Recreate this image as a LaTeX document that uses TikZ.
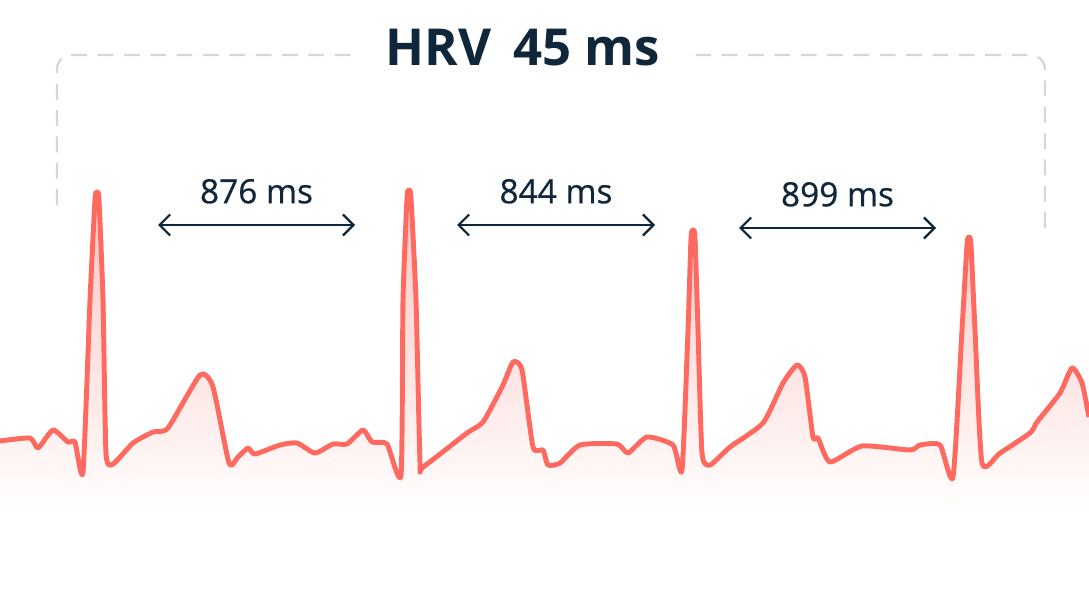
\documentclass[tikz,border=0pt]{standalone}
\usepackage{fontspec}
\setmainfont{Open Sans}
\newfontfamily\rrfont[FakeBold=0.6]{Open Sans}
\usetikzlibrary{positioning,arrows.meta,calc}
\definecolor{hrvNavy}{HTML}{10263A}
\definecolor{hrvRed}{HTML}{FF6A60}
\definecolor{hrvPink}{HTML}{FCC4C0}
\definecolor{hrvGrey}{HTML}{DCD4D4}

\begin{document}
\begin{tikzpicture}[x=0.02cm, y=-0.02cm, every node/.style={text=hrvNavy, inner sep=0pt}]
  \useasboundingbox (0,0) rectangle (1089,615);

  % ecg trace
  \def\ecg{(0,441) (30,438) (38,448) (53,430) (68,442) (75,442) (83,472) (90,300) (95,200) (97,192) (99,200) (103,300) (106,453) (113,464) (133,443) (153,432) (168,428) (200,375) (213,387) (229,463) (238,457) (248,448) (255,454) (280,445) (297,443) (315,453) (333,444) (347,444) (363,430) (372,442) (387,444) (401,475) (403,300) (407,198) (409,190) (411,198) (416,300) (420,463) (423,467) (467,433) (483,422) (503,385) (513,362) (522,370) (533,447) (543,450) (548,465) (560,463) (580,445) (617,444) (628,453) (647,437) (673,445) (682,470) (688,330) (691,238) (693,230) (695,238) (698,330) (702,453) (710,465) (730,447) (763,423) (783,383) (797,365) (805,377) (813,437) (818,438) (830,462) (862,446) (910,450) (920,445) (940,445) (953,477) (962,330) (967,245) (969,237) (971,245) (975,330) (982,463) (1000,453) (1030,433) (1037,422) (1060,393) (1072,368) (1082,383) (1089,417)}
  \shade[top color=hrvPink, bottom color=white] plot[smooth, tension=0.35] coordinates {\ecg} -- (1089,515) -- (0,515) -- cycle;
  \draw[hrvRed, line width=2.8pt, line join=round] plot[smooth, tension=0.35] coordinates {\ecg};

  % hrv bracket
  \node[font=\fontsize{29}{34}\selectfont\bfseries] (hrv) at (523,48) {HRV\, 45 ms};
  \coordinate (bl) at (57,205);
  \coordinate (br) at (1045,228);
  \draw[hrvGrey, line width=1.3pt, dash pattern=on 9pt off 6pt, rounded corners=8pt] (bl) |- ([xshift=-20pt]hrv.west |- 0,55);
  \draw[hrvGrey, line width=1.3pt, dash pattern=on 9pt off 6pt, rounded corners=8pt] (br) |- ([xshift=20pt]hrv.east |- 0,55);

  % rr intervals
  \coordinate (a1l) at (158,225);
  \coordinate (a1r) at (355,225);
  \coordinate (a2l) at (457,225);
  \coordinate (a2r) at (655,225);
  \coordinate (a3l) at (739,228);
  \coordinate (a3r) at (936,228);
  \node[font=\fontsize{19}{23}\selectfont\rrfont, above=12pt of $(a1l)!0.5!(a1r)$] (rr1) {876 ms};
  \node[font=\fontsize{19}{23}\selectfont\rrfont, above=12pt of $(a2l)!0.5!(a2r)$] (rr2) {844 ms};
  \node[font=\fontsize{19}{23}\selectfont\rrfont, above=12pt of $(a3l)!0.5!(a3r)$] (rr3) {899 ms};
  \draw[{Straight Barb[length=6pt,width=12pt]}-{Straight Barb[length=6pt,width=12pt]}, line width=1.3pt, hrvNavy] (a1l) -- (a1r);
  \draw[{Straight Barb[length=6pt,width=12pt]}-{Straight Barb[length=6pt,width=12pt]}, line width=1.3pt, hrvNavy] (a2l) -- (a2r);
  \draw[{Straight Barb[length=6pt,width=12pt]}-{Straight Barb[length=6pt,width=12pt]}, line width=1.3pt, hrvNavy] (a3l) -- (a3r);
\end{tikzpicture}
\end{document}
